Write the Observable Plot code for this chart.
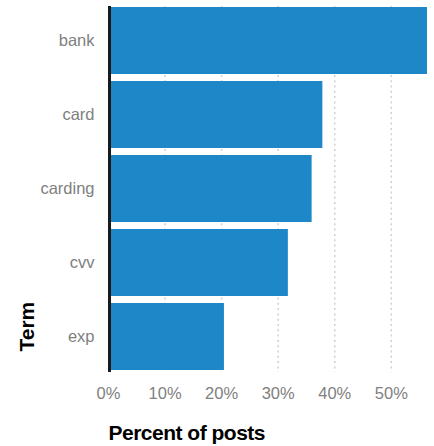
<!DOCTYPE html>
<html>
<head>
<meta charset="utf-8">
<script src="https://cdn.jsdelivr.net/npm/d3@7"></script>
<script src="https://cdn.jsdelivr.net/npm/@observablehq/plot@0.6"></script>
<style>
  html, body { margin: 0; padding: 0; background: #fff; }
  .lbl text { letter-spacing: -0.5px; }
</style>
</head>
<body>
<div id="chart"></div>
<script>
const terms = ["bank", "card", "carding", "cvv", "exp"];
const percents = [56.4, 37.9, 36.0, 31.8, 20.5];
const xTicks = [0, 10, 20, 30, 40, 50];
const gridTicks = [10, 20, 30, 40, 50];
const xLabel = "Percent of posts";
const yLabel = "Term";

const data = terms.map((t, i) => ({term: t, pct: percents[i]}));

const chart = Plot.plot({
  width: 434,
  height: 446,
  marginLeft: 108,
  marginRight: 7,
  marginTop: 6,
  marginBottom: 74,
  style: {fontFamily: "'Liberation Sans', Arial, Helvetica, sans-serif", fontSize: "16px", background: "#fff"},
  x: {domain: [0, 56.4], ticks: xTicks},
  y: {domain: terms, paddingInner: 0.09, paddingOuter: 0},
  marks: [
    Plot.gridX(gridTicks, {stroke: "#cfcfcf", strokeOpacity: 1, strokeWidth: 1.5, strokeDasharray: "2,3.3"}),
    Plot.barX(data, {x: "pct", y: "term", fill: "#1d87c8"}),
    Plot.ruleX([0], {stroke: "#1a1a1a", strokeWidth: 3, dx: 1}),
    Plot.axisY({tickSize: 0, tickPadding: 14, fontSize: 16.5, color: "#808080", label: null}),
    Plot.axisX({ticks: xTicks, tickSize: 0, tickPadding: 15, fontSize: 16.5, color: "#808080", label: null, tickFormat: d => d + "%"}),
    Plot.text([xLabel], {text: d => d, frameAnchor: "bottom-left", textAnchor: "start", lineAnchor: "middle", dy: 61, fontSize: 21, fontWeight: "bold", fill: "#000", className: "lbl"}),
    Plot.text([yLabel], {text: d => d, frameAnchor: "bottom-left", textAnchor: "start", lineAnchor: "middle", rotate: -90, dx: -81, dy: -21, fontSize: 21, fontWeight: "bold", fill: "#000"})
  ]
});
document.getElementById("chart").appendChild(chart);
</script>
</body>
</html>
